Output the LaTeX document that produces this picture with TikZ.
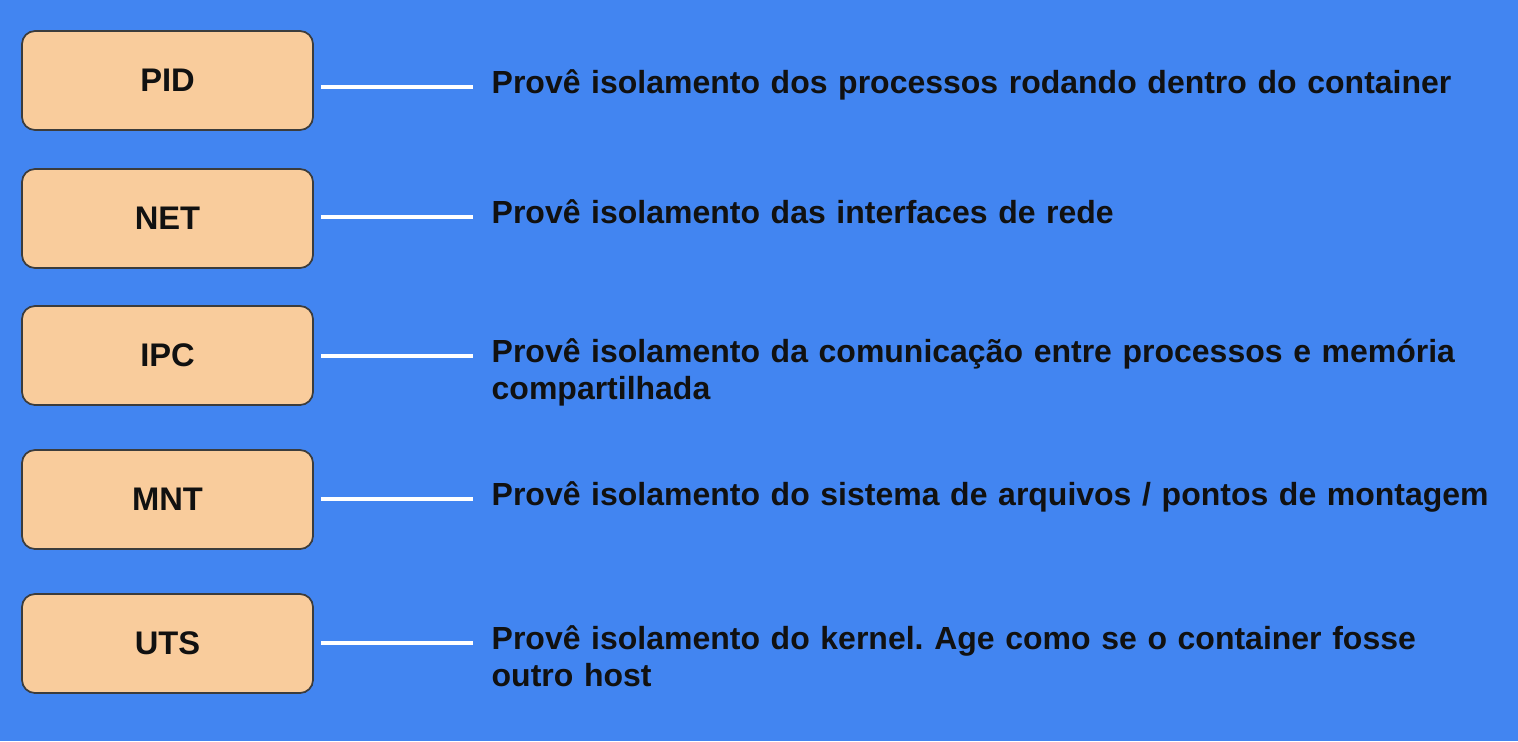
\documentclass[tikz,border=0pt]{standalone}
\usepackage{fontspec}
\setmainfont{Liberation Sans}[BoldFont={Liberation Sans Bold}]
\usepackage{tikz}
\usetikzlibrary{positioning, calc}
\definecolor{slideBlue}{RGB}{66, 133, 241}
\definecolor{boxPeach}{RGB}{249, 204, 156}
\definecolor{boxBorder}{RGB}{60, 60, 60}
\definecolor{inkDark}{RGB}{17, 17, 17}
\frenchspacing

\begin{document}
\begin{tikzpicture}[
    namespace/.style={
        rectangle,
        rounded corners=0.13cm,
        draw=boxBorder,
        line width=0.5pt,
        fill=boxPeach,
        minimum width=2.91cm,
        minimum height=0.99cm,
        text=inkDark,
        font=\fontsize{9.3}{11}\selectfont\bfseries
    },
    desc/.style={
        anchor=base west,
        inner sep=0pt,
        text width=10cm,
        align=left,
        text=inkDark,
        font=\fontsize{9.1}{10.6}\selectfont\bfseries
    },
    link/.style={
        white,
        line width=1pt,
        shorten <=0.07cm,
        shorten >=0.18cm
    }
]
    % Background
    \fill[slideBlue] (0,0) rectangle (15.18,7.41);
    \useasboundingbox (0,0) rectangle (15.18,7.41);

    % Namespaces
    \node[namespace] (pid) at (1.675,6.605) {PID};
    \node[namespace] (net) at (1.675,5.225) {NET};
    \node[namespace] (ipc) at (1.675,3.855) {IPC};
    \node[namespace] (mnt) at (1.675,2.415) {MNT};
    \node[namespace] (uts) at (1.675,0.975) {UTS};

    % Descriptions
    \node[desc] (pidtxt) at (4.91,6.48) {Provê isolamento dos processos rodando dentro do container};
    \node[desc] (nettxt) at (4.91,5.18) {Provê isolamento das interfaces de rede};
    \node[desc] (ipctxt) at (4.91,3.79) {Provê isolamento da comunicação entre processos e memória\\compartilhada};
    \node[desc] (mnttxt) at (4.91,2.36) {Provê isolamento do sistema de arquivos / pontos de montagem};
    \node[desc] (utstxt) at (4.91,0.92) {Provê isolamento do kernel. Age como se o container fosse\\outro host};

    % Links
    \draw[link] ($(pid.east |- pidtxt.base)+(0,0.06)$) -- ($(pidtxt.base west)+(0,0.06)$);
    \draw[link] ($(net.east |- nettxt.base)+(0,0.06)$) -- ($(nettxt.base west)+(0,0.06)$);
    \draw[link] ($(ipc.east |- ipctxt.base)+(0,0.06)$) -- ($(ipctxt.base west)+(0,0.06)$);
    \draw[link] ($(mnt.east |- mnttxt.base)+(0,0.06)$) -- ($(mnttxt.base west)+(0,0.06)$);
    \draw[link] ($(uts.east |- utstxt.base)+(0,0.06)$) -- ($(utstxt.base west)+(0,0.06)$);

\end{tikzpicture}
\end{document}
